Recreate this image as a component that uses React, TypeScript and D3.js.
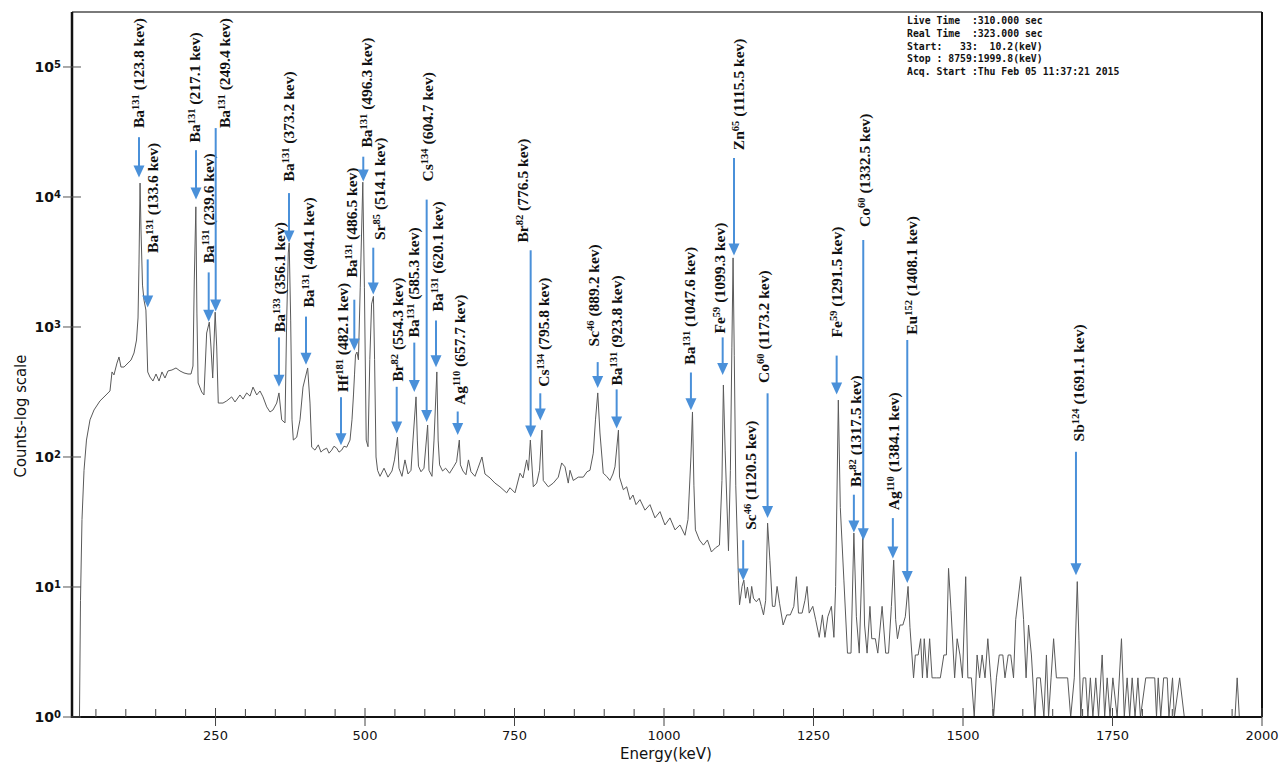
import React from 'react';
import * as d3 from 'd3';

const W = 1282, H = 763;
const PL = 72, PR = 1262, PT = 12, PB = 717;
const X_DOMAIN = [10, 2000];
const Y_TOP_EXP = 5.423;

// Spectrum: [energy keV, counts]
const lowSegment: number[][] = [
  [22.5,1],[24.2,7.9],[26.7,33],[30.1,79],[34.2,135],[40.1,193],[46.8,230],[56.8,270],[66.9,300],[73.5,322],
  [76.9,451],[80.2,428],[85.2,528],[88.6,588],[91.9,492],[97,492],[102,519],[108.7,557],[113.7,631],[117.9,794],
  [120.4,1173],[122,3000],[123.8,12800],[125.4,5570],[127.9,2100],[130.4,1610],[133.6,1350],[134.9,853],[136.6,451],
  [140.4,412],[145.4,384],[150.5,435],[155.5,384],[160.5,451],[165.5,405],[170.5,459],[177.2,467],[183.9,484],
  [190.6,459],[197.3,443],[204,435],[209,435],[212.3,501],[214.5,2300],[217.1,8400],[218.9,1280],[220.9,371],
  [226.9,316],[230.7,300],[235.2,899],[239.6,1090],[242.4,702],[245.3,405],[249.4,1300],[252,702],[254.6,260],
  [262.5,260],[268.7,270],[277,290],[282.6,265],[290.9,300],[296,279],[302.1,311],[307.7,294],[312.7,345],
  [318.9,300],[324.4,322],[329.4,290],[335.6,243],[341.1,222],[346.1,230],[352.3,260],[356.1,311],[360.7,193],
  [366.2,183],[369,1130],[371.7,3710],[373.2,4430],[375.7,1130],[377.9,193],[380.1,135],[385.8,142],[391.3,193],
  [396.3,345],[404.1,484],[408,260],[410.8,119],[416.3,113],[421.9,124],[426.4,109],[429.7,113],[435.9,117],
  [439.8,107],[444.3,113],[448.1,121],[452.6,117],[456.5,109],[461,113],[464.8,121],[469.4,119],[474.9,135],
  [478.2,193],[480.7,300],[482.4,428],[484.1,609],[486.5,642],[489,560],[492,2000],[496.3,13000],[499,2000],
  [502,135],[505,120],[508,560],[511,1500],[514.1,1720],[516,560],[518.4,100]
];

const midSegment: number[][] = [
  [521,79],[525.1,71],[531.8,82],[538.4,70],[545.1,78],[549.3,95],[554.3,142],[556.8,82],[561.8,71],[566.8,95],
  [571.9,74],[576.9,79],[580.2,135],[585.3,290],[587.5,135],[589.4,85],[593.6,77],[598.6,82],[604.7,176],[607,79],
  [612,71],[615.4,135],[620.1,451],[622.3,135],[624.7,87],[629.7,78],[634.8,82],[641.4,75],[648.1,84],[653.1,92],
  [657.7,135],[659.5,87],[663.8,78],[668.8,73],[673,95],[677.2,77],[683.9,71],[688.9,82],[695.6,100],[700.6,74],
  [709,69],[717.3,63],[725.7,59],[736.9,53],[742.4,58],[750.8,53],[759.2,75],[764.2,69],[770.3,95],[773.3,79],
  [776.5,135],[781.4,59],[787.1,63],[791.8,79],[795.8,161],[798.1,66],[806.5,59],[814.8,63],[823.2,70],[828.9,90],
  [834.4,84],[839.9,63],[842.8,79],[848.3,66],[856.6,70],[865,70],[871.2,77],[876.2,79],[881.7,107],[885.4,193],
  [889.2,311],[892.9,153],[898.4,75],[904.1,71],[909.6,66],[914.6,74],[918,84],[923.8,161],[925.6,70],[932,56],
  [937.6,59],[943.1,47],[948.1,51],[953.2,43],[959.8,47],[968.2,39],[976.5,43],[984.9,34],[993.3,38],[1001.6,30],
  [1010,34],[1018.4,27.5],[1026.7,30],[1035.1,25],[1040.1,33],[1045,100],[1047.6,222],[1050,60],[1052.5,27.5],
  [1059.2,23],[1065.9,21],[1072.6,23],[1079.3,18.6],[1086,20],[1092.7,21],[1096.9,66],[1099.3,358],[1102.2,113],
  [1107.8,19],[1111,79],[1113.5,700],[1115.5,3400],[1117.5,600],[1120,60]
];

const highSegment: number[][] = [
  [1124.5,11.3],[1126.3,7.3],[1130.5,10.1],[1133.5,11.3],[1136.5,8.2],[1139.5,10],[1143.7,7.5],[1146.6,10.1],
  [1149.6,8.2],[1154.4,7.7],[1159.2,8.2],[1162.8,7.1],[1166.4,6.1],[1170,7.9],[1173.2,31],[1177.1,16],[1181.3,7.1],
  [1185.5,7.1],[1189.1,10.1],[1193.2,7.5],[1199.2,5.1],[1205.2,6.1],[1211.2,6.1],[1217.1,7.1],[1221.3,12],
  [1224.9,6.3],[1230.9,6.3],[1235.7,7.9],[1239.2,10.1],[1242.8,6.3],[1248.8,7.1],[1253.6,5.6],[1259.6,4.1],
  [1264.9,6.1],[1269.1,4.1],[1273.9,5.9],[1279.9,7.1],[1284.1,4.1],[1287,10.1],[1291.5,274],[1294.8,41],
  [1300.8,11.3],[1306.8,3.1],[1312.7,3.1],[1317.5,26],[1321.7,5.9],[1326.5,3.1],[1332.5,24.4],[1335.4,5.1],
  [1339.6,3.1],[1344.4,7.1],[1347.4,4],[1353.4,4],[1357.5,3.1],[1364.7,7.1],[1370.7,3.1],[1375.5,3.1],[1380.2,7.1],
  [1384.1,16.1],[1387.4,5.6],[1390.4,4],[1394.6,5.1],[1399.4,5.1],[1403.5,5.9],[1408.1,10.1],[1411.3,4.9],
  [1417.3,2],[1420.3,3],[1425,3],[1429.2,4],[1432.2,2],[1435.2,4],[1440,2],[1444.2,4],[1448.3,2],[1456.1,2],
  [1462.1,2],[1468,3],[1472.2,3],[1475.8,13.9],[1480,6.6],[1486,2],[1490.2,4],[1494.9,3],[1499.1,2],[1504.5,12],
  [1508.1,2],[1514,2],[1518.8,1],[1523.6,3],[1527.8,2],[1532,3],[1536.8,2],[1541.5,4],[1546.3,2],[1551.1,1],
  [1555.9,2],[1560.6,3],[1566.6,3],[1570.2,2],[1575.6,3],[1579.8,3],[1584.5,2],[1588.1,5.6],[1596.5,12],
  [1601.3,5.6],[1605.5,2],[1609.6,5.1],[1614.4,3],[1620.4,1],[1623.4,2],[1629.3,2],[1635.3,1],[1639.5,3],
  [1643.1,1],[1647.3,2],[1651.5,4],[1656.2,2],[1675,2],[1680.1,1],[1686.1,2],[1691.1,11],[1693.9,3.9],[1696.9,1],
  [1701,2],[1705.2,2],[1708.8,1],[1713,2],[1717.2,1],[1722,2],[1726.7,1],[1732.7,3],[1736.9,1],[1741.1,2],
  [1745.8,1],[1750.6,2],[1757.8,1],[1765,4],[1769.7,1],[1774.5,2],[1778.7,1],[1782.9,2],[1787.7,1],[1792.5,2],
  [1796.7,1],[1805.6,2],[1820.6,2],[1823.6,1],[1826.5,2],[1830.7,1],[1835.5,2],[1841.5,2],[1844.4,1],[1850.4,2],
  [1853.4,1],[1862.3,2],[1870.1,1],[1954.9,1],[1958.5,2],[1962.1,1],[1999.8,1]
];

const xMajorTicks = [250, 500, 750, 1000, 1250, 1500, 1750, 2000];
const xMinorTicks = [50, 100, 150, 200, 300, 350, 400, 450, 550, 600, 650, 700, 800, 850, 900, 950,
  1050, 1100, 1150, 1200, 1300, 1350, 1400, 1450, 1550, 1600, 1650, 1700, 1800, 1850, 1900, 1950];
const yTickExps = [0, 1, 2, 3, 4, 5];

const infoLines = [
  'Live Time  :310.000 sec',
  'Real Time  :323.000 sec',
  'Start:   33:  10.2(keV)',
  'Stop : 8759:1999.8(keV)',
  'Acq. Start :Thu Feb 05 11:37:21 2015',
];

// Peak labels: arrow energy, arrow top/tip (log10 counts), text column energy, text base (log10 counts)
const annotations = [
  { el: 'Ba', mass: '131', kev: '123.8', arrowE: 122.0, arrowTop: 4.46, arrowTip: 4.15, textE: 122.0, textBase: 4.53 },
  { el: 'Ba', mass: '131', kev: '133.6', arrowE: 136.6, arrowTop: 3.52, arrowTip: 3.15, textE: 145.4, textBase: 3.57 },
  { el: 'Ba', mass: '131', kev: '217.1', arrowE: 217.4, arrowTop: 4.36, arrowTip: 3.98, textE: 214.5, textBase: 4.42 },
  { el: 'Ba', mass: '131', kev: '239.6', arrowE: 238.6, arrowTop: 3.42, arrowTip: 3.04, textE: 237.9, textBase: 3.49 },
  { el: 'Ba', mass: '131', kev: '249.4', arrowE: 250.3, arrowTop: 4.53, arrowTip: 3.12, textE: 264.2, textBase: 4.53 },
  { el: 'Ba', mass: '133', kev: '356.1', arrowE: 356.1, arrowTop: 2.92, arrowTip: 2.54, textE: 357.8, textBase: 2.96 },
  { el: 'Ba', mass: '131', kev: '373.2', arrowE: 372.9, arrowTop: 4.03, arrowTip: 3.65, textE: 371.7, textBase: 4.12 },
  { el: 'Ba', mass: '131', kev: '404.1', arrowE: 401.3, arrowTop: 3.08, arrowTip: 2.71, textE: 406.3, textBase: 3.15 },
  { el: 'Hf', mass: '181', kev: '482.1', arrowE: 459.8, arrowTop: 2.46, arrowTip: 2.09, textE: 462.0, textBase: 2.5 },
  { el: 'Ba', mass: '131', kev: '486.5', arrowE: 482.1, arrowTop: 3.21, arrowTip: 2.82, textE: 477.7, textBase: 3.38 },
  { el: 'Ba', mass: '131', kev: '496.3', arrowE: 497.1, arrowTop: 4.31, arrowTip: 4.12, textE: 502.8, textBase: 4.38 },
  { el: 'Sr', mass: '85', kev: '514.1', arrowE: 513.8, arrowTop: 3.61, arrowTip: 3.25, textE: 523.4, textBase: 3.67 },
  { el: 'Br', mass: '82', kev: '554.3', arrowE: 553.0, arrowTop: 2.54, arrowTip: 2.18, textE: 554.0, textBase: 2.58 },
  { el: 'Ba', mass: '131', kev: '585.3', arrowE: 582.4, arrowTop: 2.88, arrowTip: 2.5, textE: 581.9, textBase: 2.92 },
  { el: 'Cs', mass: '134', kev: '604.7', arrowE: 603.1, arrowTop: 3.98, arrowTip: 2.27, textE: 604.1, textBase: 4.12 },
  { el: 'Ba', mass: '131', kev: '620.1', arrowE: 618.7, arrowTop: 3.05, arrowTip: 2.69, textE: 620.9, textBase: 3.12 },
  { el: 'Ag', mass: '110', kev: '657.7', arrowE: 655.0, arrowTop: 2.35, arrowTip: 2.17, textE: 658.8, textBase: 2.4 },
  { el: 'Br', mass: '82', kev: '776.5', arrowE: 777.0, arrowTop: 3.59, arrowTip: 2.15, textE: 763.7, textBase: 3.65 },
  { el: 'Cs', mass: '134', kev: '795.8', arrowE: 793.1, arrowTop: 2.49, arrowTip: 2.28, textE: 798.1, textBase: 2.54 },
  { el: 'Sc', mass: '46', kev: '889.2', arrowE: 889.1, arrowTop: 2.73, arrowTip: 2.53, textE: 881.7, textBase: 2.85 },
  { el: 'Ba', mass: '131', kev: '923.8', arrowE: 920.8, arrowTop: 2.52, arrowTip: 2.22, textE: 920.8, textBase: 2.55 },
  { el: 'Ba', mass: '131', kev: '1047.6', arrowE: 1045.0, arrowTop: 2.65, arrowTip: 2.36, textE: 1043.4, textBase: 2.71 },
  { el: 'Fe', mass: '59', kev: '1099.3', arrowE: 1098.1, arrowTop: 2.92, arrowTip: 2.63, textE: 1092.4, textBase: 2.95 },
  { el: 'Zn', mass: '65', kev: '1115.5', arrowE: 1117.0, arrowTop: 4.3, arrowTip: 3.55, textE: 1124.2, textBase: 4.36 },
  { el: 'Sc', mass: '46', kev: '1120.5', arrowE: 1132.4, arrowTop: 1.36, arrowTip: 1.05, textE: 1144.4, textBase: 1.44 },
  { el: 'Co', mass: '60', kev: '1173.2', arrowE: 1173.2, arrowTop: 2.49, arrowTip: 1.53, textE: 1166.0, textBase: 2.57 },
  { el: 'Fe', mass: '59', kev: '1291.5', arrowE: 1288.7, arrowTop: 2.78, arrowTip: 2.48, textE: 1288.7, textBase: 2.92 },
  { el: 'Br', mass: '82', kev: '1317.5', arrowE: 1317.5, arrowTop: 1.71, arrowTip: 1.42, textE: 1320.5, textBase: 1.77 },
  { el: 'Co', mass: '60', kev: '1332.5', arrowE: 1333.2, arrowTop: 3.67, arrowTip: 1.36, textE: 1336.0, textBase: 3.77 },
  { el: 'Ag', mass: '110', kev: '1384.1', arrowE: 1382.7, arrowTop: 1.53, arrowTip: 1.22, textE: 1384.6, textBase: 1.59 },
  { el: 'Eu', mass: '152', kev: '1408.1', arrowE: 1406.8, arrowTop: 2.9, arrowTip: 1.03, textE: 1414.1, textBase: 2.94 },
  { el: 'Sb', mass: '124', kev: '1691.1', arrowE: 1688.9, arrowTop: 2.04, arrowTip: 1.09, textE: 1692.8, textBase: 2.12 },
];

const ARROW = '#4a90d9';

export default function App() {
  const x = d3.scaleLinear().domain(X_DOMAIN).range([PL, PR]);
  const y = d3.scaleLog().domain([1, Math.pow(10, Y_TOP_EXP)]).range([PB, PT]);
  const ye = (e: number) => y(Math.pow(10, e));
  const spectrum = [...lowSegment, ...midSegment, ...highSegment];
  const line = d3.line<number[]>()
    .x(d => x(d[0]))
    .y(d => y(Math.max(1, d[1])));

  return (
    <svg width={W} height={H} style={{ position: 'absolute', left: 0, top: 0, background: '#fff' }}>
      <defs>
        <clipPath id="plotClip">
          <rect x={PL} y={PT} width={PR - PL} height={PB - PT} />
        </clipPath>
      </defs>
      <rect x={0} y={0} width={W} height={H} fill="#fff" />

      <path d={line(spectrum) || ''} fill="none" stroke="#5a5a5a" strokeWidth={1} strokeLinejoin="round" clipPath="url(#plotClip)" />

      {/* frame */}
      <line x1={PL} x2={PR} y1={PT} y2={PT} stroke="#7a7a7a" strokeWidth={2} />
      <line x1={PR} x2={PR} y1={PT} y2={PB} stroke="#111" strokeWidth={2} />
      <line x1={PL} x2={PL} y1={PT} y2={PB + 1} stroke="#111" strokeWidth={2.5} />
      <line x1={PL} x2={PR} y1={PB} y2={PB} stroke="#111" strokeWidth={2} />

      {/* x ticks */}
      {xMinorTicks.map(t => (
        <line key={'mi' + t} x1={x(t)} x2={x(t)} y1={PB - 8} y2={PB} stroke="#444" strokeWidth={1} />
      ))}
      {xMajorTicks.map(t => (
        <g key={'ma' + t}>
          <line x1={x(t)} x2={x(t)} y1={PB - 9} y2={PB + 9} stroke="#444" strokeWidth={1} />
          <text x={x(t)} y={740} textAnchor="middle" fontFamily="DejaVu Sans" fontSize={13} fill="#111">{t}</text>
        </g>
      ))}
      <text x={666} y={759} textAnchor="middle" fontFamily="DejaVu Sans" fontSize={15} fill="#111">Energy(keV)</text>

      {/* y ticks */}
      {yTickExps.map(e => (
        <g key={'y' + e}>
          <line x1={PL - 9} x2={PL + 9} y1={ye(e)} y2={ye(e)} stroke="#555" strokeWidth={1} />
          <text x={61} y={ye(e) + 5} textAnchor="end" fontFamily="DejaVu Sans" fontWeight="bold" fontSize={14} fill="#111">
            10<tspan fontSize={10} dy={-4}>{e}</tspan>
          </text>
        </g>
      ))}
      <text transform={`translate(26,${416}) rotate(-90)`} textAnchor="middle"
        fontFamily="DejaVu Sans Condensed, DejaVu Sans" fontSize={16.5} fill="#111">Counts-log scale</text>

      {/* info box */}
      {infoLines.map((s, i) => (
        <text key={'info' + i} x={907} y={24 + i * 12.8} fontFamily="DejaVu Sans Mono" fontWeight="bold"
          fontSize={9.8} fill="#111" style={{ whiteSpace: 'pre' }} xmlSpace="preserve">{s}</text>
      ))}

      {/* annotations */}
      {annotations.map((a, i) => {
        const ax = x(a.arrowE);
        const top = ye(a.arrowTop);
        const tip = ye(a.arrowTip);
        const head = 12;
        return (
          <g key={'ann' + i}>
            <line x1={ax} x2={ax} y1={top} y2={tip - head + 1} stroke={ARROW} strokeWidth={2} />
            <polygon points={`${ax - 5.5},${tip - head} ${ax + 5.5},${tip - head} ${ax},${tip}`} fill={ARROW} />
            <text transform={`translate(${x(a.textE) + 5.5},${ye(a.textBase)}) rotate(-90)`}
              fontFamily="Liberation Serif, Times New Roman, serif" fontWeight="bold" fontSize={15.5} fill="#111">
              <tspan>{a.el}</tspan>
              <tspan fontSize={10.5} dy={-5}>{a.mass}</tspan>
              <tspan dy={5}>{' (' + a.kev + ' kev)'}</tspan>
            </text>
          </g>
        );
      })}
    </svg>
  );
}
